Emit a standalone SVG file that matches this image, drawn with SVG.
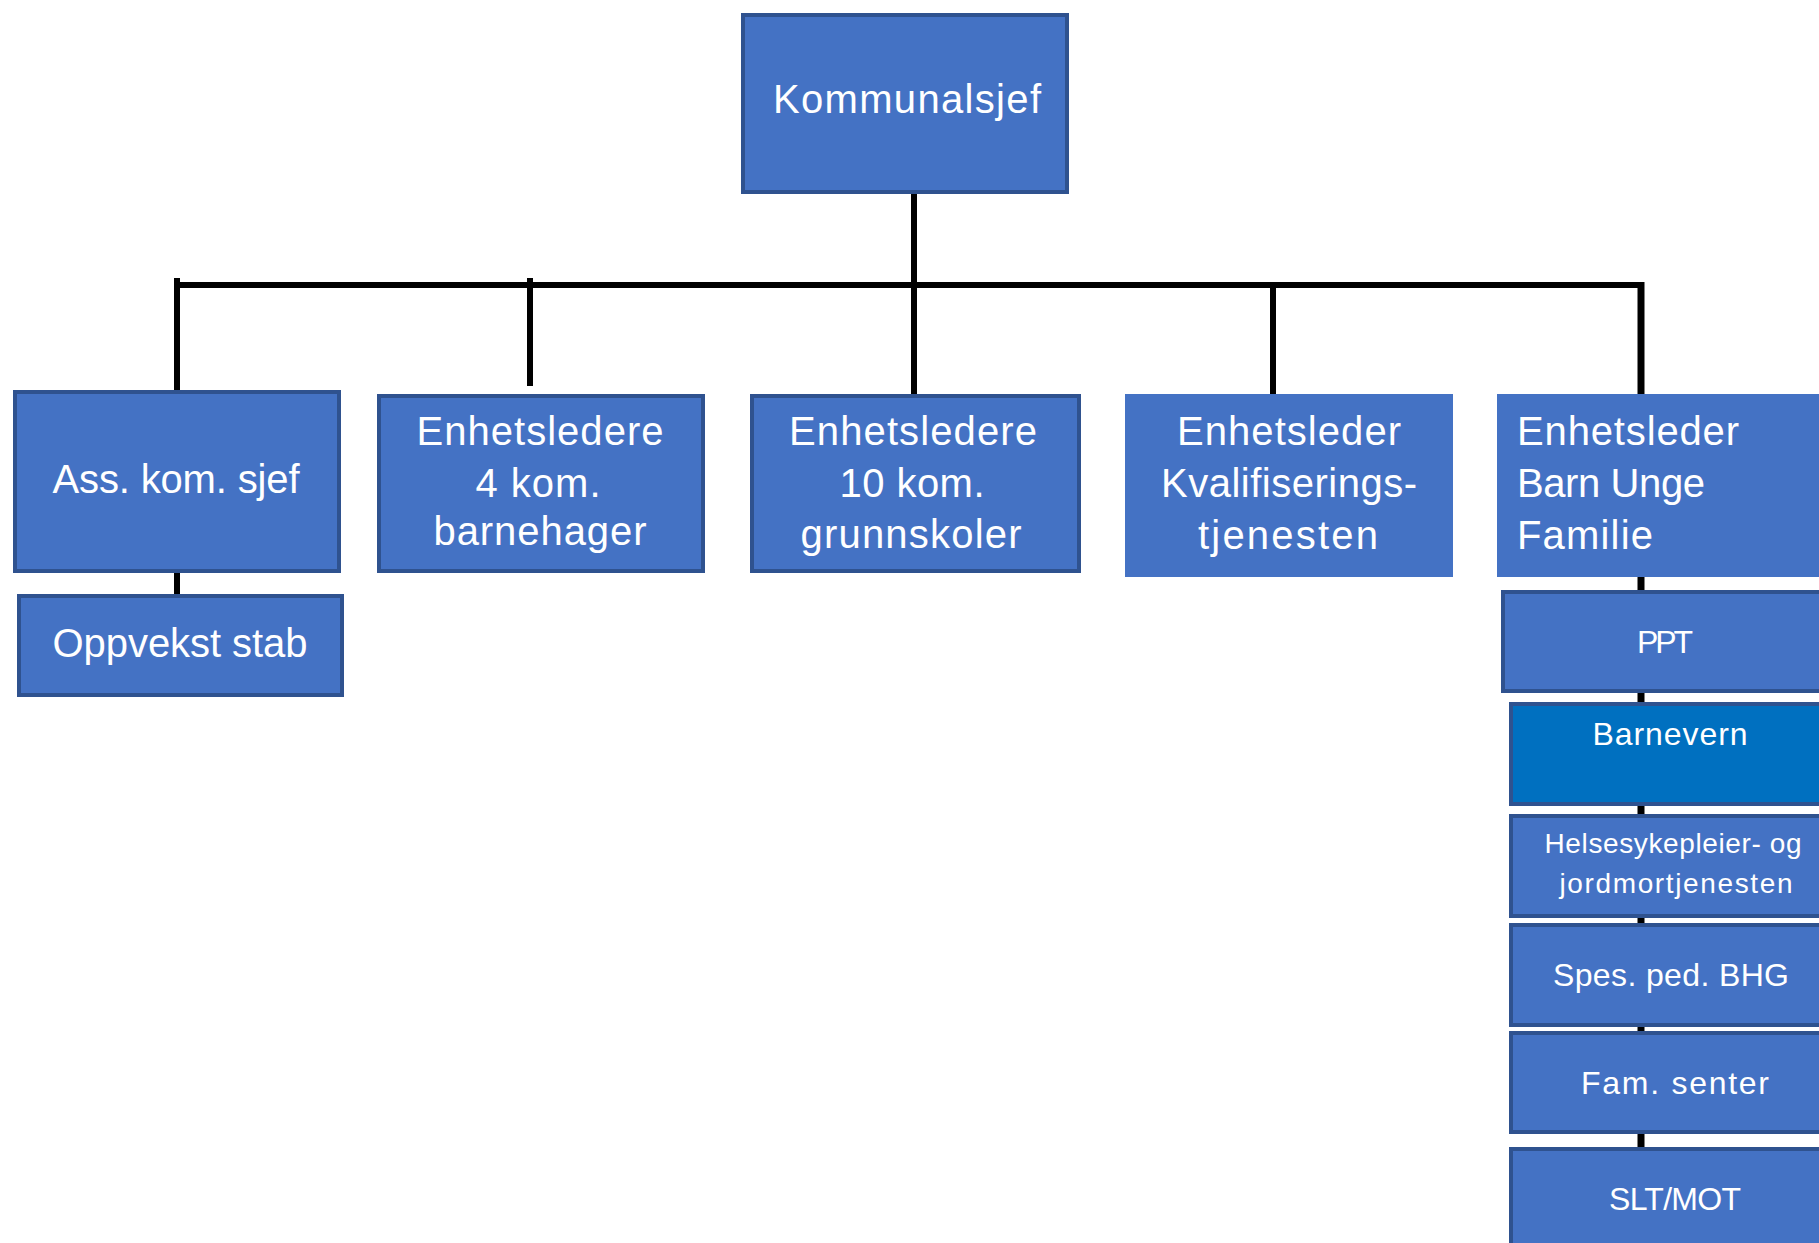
<svg xmlns="http://www.w3.org/2000/svg" width="1819" height="1243" viewBox="0 0 1819 1243">
<style>
.box{fill:#4472C4;stroke:#2F528F;stroke-width:4}
.plain{fill:#4472C4;stroke:none}
.dark{fill:#0070C0;stroke:#2F528F;stroke-width:4}
.t{font-family:"Liberation Sans",Arial,sans-serif;fill:#FFFFFF;font-size:40px}
.s{font-family:"Liberation Sans",Arial,sans-serif;fill:#FFFFFF;font-size:32px}
.xs{font-family:"Liberation Sans",Arial,sans-serif;fill:#FFFFFF;font-size:28px}
.c{stroke:#000000;stroke-width:6;fill:none}
.c2{stroke:#000000;stroke-width:7;fill:none}
</style>
<rect width="1819" height="1243" fill="#FFFFFF"/>
<g id="connectors">
<line class="c" x1="174" y1="285" x2="1644" y2="285"/>
<line class="c" x1="914" y1="194" x2="914" y2="394"/>
<line class="c" x1="177" y1="278" x2="177" y2="391"/>
<line class="c" x1="177" y1="572" x2="177" y2="595"/>
<line class="c" x1="530" y1="278" x2="530" y2="386"/>
<line class="c" x1="1273" y1="282" x2="1273" y2="394"/>
<line class="c2" x1="1641" y1="282" x2="1641" y2="394"/>
<line class="c2" x1="1641" y1="576" x2="1641" y2="1148"/>
</g>
<g id="kommunalsjef">
<rect class="box" x="743" y="15" width="324" height="177"/>
<text class="t" x="907" y="113" text-anchor="middle" textLength="268">Kommunalsjef</text>
</g>
<g id="ass-kom-sjef">
<rect class="box" x="15" y="392" width="324" height="179"/>
<text class="t" x="176" y="493" text-anchor="middle" textLength="247">Ass. kom. sjef</text>
</g>
<g id="oppvekst-stab">
<rect class="box" x="19" y="596" width="323" height="99"/>
<text class="t" x="180" y="657" text-anchor="middle" textLength="255">Oppvekst stab</text>
</g>
<g id="barnehager">
<rect class="box" x="379" y="396" width="324" height="175"/>
<text class="t" x="540" y="445" text-anchor="middle" textLength="247">Enhetsledere</text>
<text class="t" x="538" y="497" text-anchor="middle" textLength="125">4 kom.</text>
<text class="t" x="540" y="545" text-anchor="middle" textLength="213">barnehager</text>
</g>
<g id="grunnskoler">
<rect class="box" x="752" y="396" width="327" height="175"/>
<text class="t" x="913" y="445" text-anchor="middle" textLength="248">Enhetsledere</text>
<text class="t" x="912" y="497" text-anchor="middle" textLength="145">10 kom.</text>
<text class="t" x="911" y="548" text-anchor="middle" textLength="221">grunnskoler</text>
</g>
<g id="kvalifisering">
<rect class="plain" x="1125" y="394" width="328" height="183"/>
<text class="t" x="1289" y="445" text-anchor="middle" textLength="224">Enhetsleder</text>
<text class="t" x="1289" y="497" text-anchor="middle" textLength="256">Kvalifiserings-</text>
<text class="t" x="1288" y="549" text-anchor="middle" textLength="180">tjenesten</text>
</g>
<g id="barn-unge-familie">
<rect class="plain" x="1497" y="394" width="340" height="183"/>
<text class="t" x="1517" y="445" textLength="222">Enhetsleder</text>
<text class="t" x="1517" y="497" textLength="188">Barn Unge</text>
<text class="t" x="1517" y="549" textLength="136">Familie</text>
</g>
<g id="ppt">
<rect class="box" x="1503" y="592" width="340" height="99"/>
<text class="s" x="1665" y="653" text-anchor="middle" textLength="56">PPT</text>
</g>
<g id="barnevern">
<rect class="dark" x="1511" y="704" width="340" height="100"/>
<text class="s" x="1670" y="745" text-anchor="middle" textLength="155">Barnevern</text>
</g>
<g id="helsesykepleier">
<rect class="box" x="1511" y="816" width="340" height="100"/>
<text class="xs" x="1673" y="853" text-anchor="middle" textLength="257">Helsesykepleier- og</text>
<text class="xs" x="1676" y="893" text-anchor="middle" textLength="233">jordmortjenesten</text>
</g>
<g id="spes-ped-bhg">
<rect class="box" x="1511" y="925" width="340" height="100"/>
<text class="s" x="1671" y="986" text-anchor="middle" textLength="236">Spes. ped. BHG</text>
</g>
<g id="fam-senter">
<rect class="box" x="1511" y="1033" width="340" height="99"/>
<text class="s" x="1675" y="1094" text-anchor="middle" textLength="188">Fam. senter</text>
</g>
<g id="slt-mot">
<rect class="box" x="1511" y="1149" width="340" height="120"/>
<text class="s" x="1675" y="1210" text-anchor="middle" textLength="132">SLT/MOT</text>
</g>
</svg>
